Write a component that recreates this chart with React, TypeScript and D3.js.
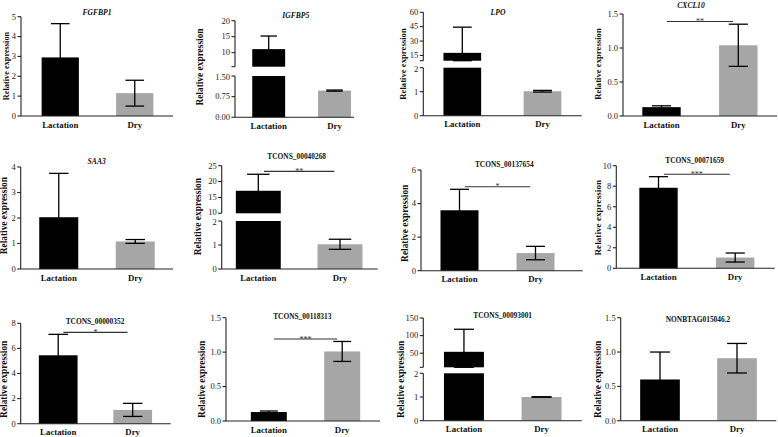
import React from "react";
import * as d3 from "d3";

// ---------- data ----------
const categories = ["Lactation", "Dry"];
const titles = [
  "FGFBP1", "IGFBP5", "LPO", "CXCL10",
  "SAA3", "TCONS_00040268", "TCONS_00137654", "TCONS_00071659",
  "TCONS_00000352", "TCONS_00118313", "TCONS_00093001", "NONBTAG015046.2",
];
const italicTitle = [true, true, true, true, true, false, false, false, false, false, false, false];
const lactMean = [2.95, 11.1, 17.7, 0.13, 2.03, 17.1, 3.6, 7.85, 5.45, 0.13, 54, 0.6];
const lactErr = [1.7, 4.1, 26.8, 0.02, 1.72, 5.2, 1.25, 1.08, 1.67, 0.015, 64, 0.4];
const dryMean = [1.15, 0.97, 1.02, 1.04, 1.08, 1.03, 1.05, 1.05, 1.1, 1.01, 1.0, 0.91];
const dryErr = [0.65, 0.02, 0.035, 0.31, 0.075, 0.21, 0.4, 0.44, 0.52, 0.145, 0.01, 0.215];
const sigLabels = ["", "", "", "**", "", "**", "*", "***", "*", "***", "", ""];
const sigLevel = [0, 0, 0, 1.39, 0, 23.2, 5.0, 9.16, 7.28, 1.19, 0, 0];
const yTicksLower = [
  [0, 1, 2, 3, 4, 5], [0, 0.75, 1.5], [0, 1, 2], [0, 0.5, 1, 1.5],
  [0, 1, 2, 3, 4], [0, 1, 2], [0, 2, 4, 6], [0, 2, 4, 6, 8, 10],
  [0, 2, 4, 6, 8], [0, 0.5, 1, 1.5], [0, 1, 2], [0, 0.5, 1, 1.5],
];
const yTicksUpper = [
  [], [10, 15, 20], [15, 30, 45, 60], [],
  [], [10, 15, 20, 25], [], [],
  [], [], [50, 100, 150], [],
];
const tickFormats = ["d", ".2f", "d", ".1f", "d", "d", "d", "d", "d", ".1f", "d", ".1f"];
const upperTickFormat = "d";
// axis domains: [min, max] lower segment, optional upper (broken axis) segment
const lowerDomain = [[0, 5], [0, 1.5], [0, 2], [0, 1.5], [0, 4], [0, 2], [0, 6], [0, 10], [0, 8], [0, 1.5], [0, 2], [0, 1.5]];
const upperDomain: (number[] | null)[] = [null, [5.6, 20], [9.5, 60], null, null, [10, 25], null, null, null, null, [10, 150], null];

// ---------- layout (pixels) ----------
type Layout = {
  ax: number; xEnd: number; band: [number, number]; pad: number;
  lower: [number, number]; upper?: [number, number];
  title: [number, number]; ylab: [number, number, number];
};
const layouts: Layout[] = [
  { ax: 21, xEnd: 173, band: [23, 172], pad: 0.5, lower: [116, 16.7], title: [97, 15], ylab: [6, 66, 8.3] },
  { ax: 235, xEnd: 354, band: [235.8, 367.4], pad: 0.5, lower: [117.3, 76], upper: [66.7, 20.7], title: [295.7, 17.5], ylab: [200, 67, 9.4] },
  { ax: 423.3, xEnd: 581.7, band: [422.2, 582.6], pad: 0.53, lower: [115.7, 67.7], upper: [60.7, 12.3], title: [498, 14.5], ylab: [403.3, 64, 8.7] },
  { ax: 623, xEnd: 777, band: [623.1, 776.7], pad: 0.5, lower: [116, 14], title: [691, 7.5], ylab: [598, 64, 8.7] },
  { ax: 20.7, xEnd: 173, band: [20.5, 173.5], pad: 0.49, lower: [269, 167], title: [96.7, 164], ylab: [4, 215.7, 9.4] },
  { ax: 221.7, xEnd: 377.7, band: [217.45, 380.85], pad: 0.45, lower: [269, 221], upper: [213.3, 165.7], title: [296.7, 158.5], ylab: [198, 216.7, 9.4] },
  { ax: 421, xEnd: 582.7, band: [421.5, 573.5], pad: 0.5, lower: [270.7, 170], title: [504.3, 167], ylab: [405, 223.3, 9.4] },
  { ax: 616.3, xEnd: 774.7, band: [620.15, 773.55], pad: 0.5, lower: [268.3, 165.7], title: [694.7, 163], ylab: [598, 217.7, 9.2] },
  { ax: 20.7, xEnd: 170.7, band: [20.95, 169.95], pad: 0.48, lower: [423.7, 323.3], title: [95, 323.5], ylab: [4, 379.3, 9.4] },
  { ax: 226, xEnd: 380, band: [232.1, 378.9], pad: 0.51, lower: [421, 317.7], title: [302.3, 319], ylab: [202.3, 379.3, 9.4] },
  { ax: 423.3, xEnd: 581.7, band: [425.15, 580.35], pad: 0.485, lower: [420.7, 373.3], upper: [367.3, 318], title: [502.7, 318], ylab: [400.7, 379.3, 9.4] },
  { ax: 620.7, xEnd: 776.3, band: [621.5, 775.5], pad: 0.485, lower: [420.7, 317.7], title: [698, 322], ylab: [598, 379.3, 9.4] },
];

const FONT = "'Liberation Serif', 'Times New Roman', serif";
const DRY_FILL = "#a6a6a6";
const AXIS = "#222";
const TICK_FS = 8.5;

type Seg = { dom: number[]; scale: d3.ScaleLinear<number, number>; ticks: number[]; isUpper: boolean; fmt: (n: number) => string };

function Panel({ i }: { i: number }) {
  const L = layouts[i];
  const segs: Seg[] = [];
  segs.push({
    dom: lowerDomain[i],
    scale: d3.scaleLinear().domain(lowerDomain[i]).range(L.lower),
    ticks: yTicksLower[i],
    isUpper: false,
    fmt: d3.format(tickFormats[i]),
  });
  const ud = upperDomain[i];
  const broken = !!(ud && L.upper);
  if (ud && L.upper) {
    segs.push({ dom: ud, scale: d3.scaleLinear().domain(ud).range(L.upper), ticks: yTicksUpper[i], isUpper: true, fmt: d3.format(upperTickFormat) });
  }
  const x = d3.scaleBand<string>().domain(categories).range(L.band).paddingInner(L.pad).paddingOuter(L.pad / 2);
  const bw = x.bandwidth();
  const y0 = L.lower[0];
  const means = [lactMean[i], dryMean[i]];
  const errs = [lactErr[i], dryErr[i]];
  const fills = ["#000", DRY_FILL];

  const segFor = (v: number) => segs.find((s) => v >= s.dom[0] && v <= s.dom[1]) || segs[0];

  // small nudge so labels at the two sides of an axis break do not collide
  const labelNudge = (s: Seg, t: number) => {
    if (!broken) return 0;
    if (s.isUpper && t === s.dom[0]) return -1.1;
    if (!s.isUpper && t === s.dom[1]) return 1.1;
    return 0;
  };

  return (
    <g>
      {/* bars */}
      {categories.map((c, k) =>
        segs.map((s, si) => {
          const v = means[k];
          if (v <= s.dom[0]) return null;
          const top = Math.min(v, s.dom[1]);
          const yTop = s.scale(top);
          const yBot = s.scale(s.dom[0]);
          return <rect key={`b${k}-${si}`} x={x(c)} y={yTop} width={bw} height={yBot - yTop} fill={fills[k]} />;
        })
      )}
      {/* error bars */}
      {categories.map((c, k) => {
        const v = means[k];
        const s = segFor(v);
        const hi = Math.min(v + errs[k], s.dom[1]);
        const lo = Math.max(v - errs[k], s.dom[0]);
        const cx = (x(c) as number) + bw / 2;
        const cw = bw * 0.25;
        return (
          <g key={`e${k}`} stroke="#000" strokeWidth={1.3} fill="none">
            <line x1={cx} x2={cx} y1={s.scale(lo)} y2={s.scale(hi)} />
            <line x1={cx - cw} x2={cx + cw} y1={s.scale(hi)} y2={s.scale(hi)} />
            <line x1={cx - cw} x2={cx + cw} y1={s.scale(lo)} y2={s.scale(lo)} />
          </g>
        );
      })}
      {/* y axis segments */}
      {segs.map((s, si) => {
        const r = s.scale.range();
        const tks = [...s.ticks];
        if (s.isUpper && !tks.includes(s.dom[0])) tks.push(s.dom[0]);
        return (
          <g key={`ax${si}`}>
            <line x1={L.ax} x2={L.ax} y1={r[0]} y2={r[1]} stroke={AXIS} strokeWidth={1.1} />
            {tks.map((t) => (
              <g key={t}>
                <line x1={L.ax - 3.5} x2={L.ax} y1={s.scale(t)} y2={s.scale(t)} stroke={AXIS} strokeWidth={1.1} />
                {s.ticks.includes(t) && (
                  <text x={L.ax - 5} y={s.scale(t) + labelNudge(s, t)} dy="0.33em" textAnchor="end" fontSize={TICK_FS} fontFamily={FONT} fill="#222">
                    {s.fmt(t)}
                  </text>
                )}
              </g>
            ))}
          </g>
        );
      })}
      {/* x axis */}
      <line x1={L.ax} x2={L.xEnd} y1={y0} y2={y0} stroke={AXIS} strokeWidth={1.1} />
      {categories.map((c) => (
        <text key={c} x={(x(c) as number) + bw / 2} y={y0 + 11.5} textAnchor="middle" fontSize={8.8} fontWeight="bold" fontFamily={FONT} fill="#111">
          {c}
        </text>
      ))}
      {/* significance */}
      {sigLabels[i] && (() => {
        const s = segFor(sigLevel[i]);
        const yy = s.scale(sigLevel[i]);
        const step = x.step();
        const x1 = (x(categories[0]) as number) + bw / 2 + step * 0.07;
        const x2 = (x(categories[1]) as number) + bw / 2 - step * 0.07;
        return (
          <g>
            <line x1={x1} x2={x2} y1={yy} y2={yy} stroke="#333" strokeWidth={1.1} />
            <text x={(x1 + x2) / 2} y={yy + 2.5} textAnchor="middle" fontSize={8} fontFamily={FONT} fill="#333">
              {sigLabels[i]}
            </text>
          </g>
        );
      })()}
      {/* title */}
      <text x={L.title[0]} y={L.title[1]} textAnchor="middle" fontSize={italicTitle[i] ? 7.6 : 7.4} fontWeight="bold"
        fontStyle={italicTitle[i] ? "italic" : "normal"} fontFamily={FONT} fill="#111">
        {titles[i]}
      </text>
      {/* y label */}
      <text transform={`translate(${L.ylab[0] + L.ylab[2] * 0.33},${L.ylab[1]}) rotate(-90)`} textAnchor="middle"
        fontSize={L.ylab[2]} fontWeight="bold" fontFamily={FONT} fill="#111">
        Relative expression
      </text>
    </g>
  );
}

export default function App() {
  return (
    <svg width={778} height={437} viewBox="0 0 778 437"
      style={{ position: "absolute", left: 0, top: 0, background: "#fff", display: "block" }}>
      <rect width={778} height={437} fill="#fff" />
      {titles.map((_, i) => <Panel key={i} i={i} />)}
    </svg>
  );
}
